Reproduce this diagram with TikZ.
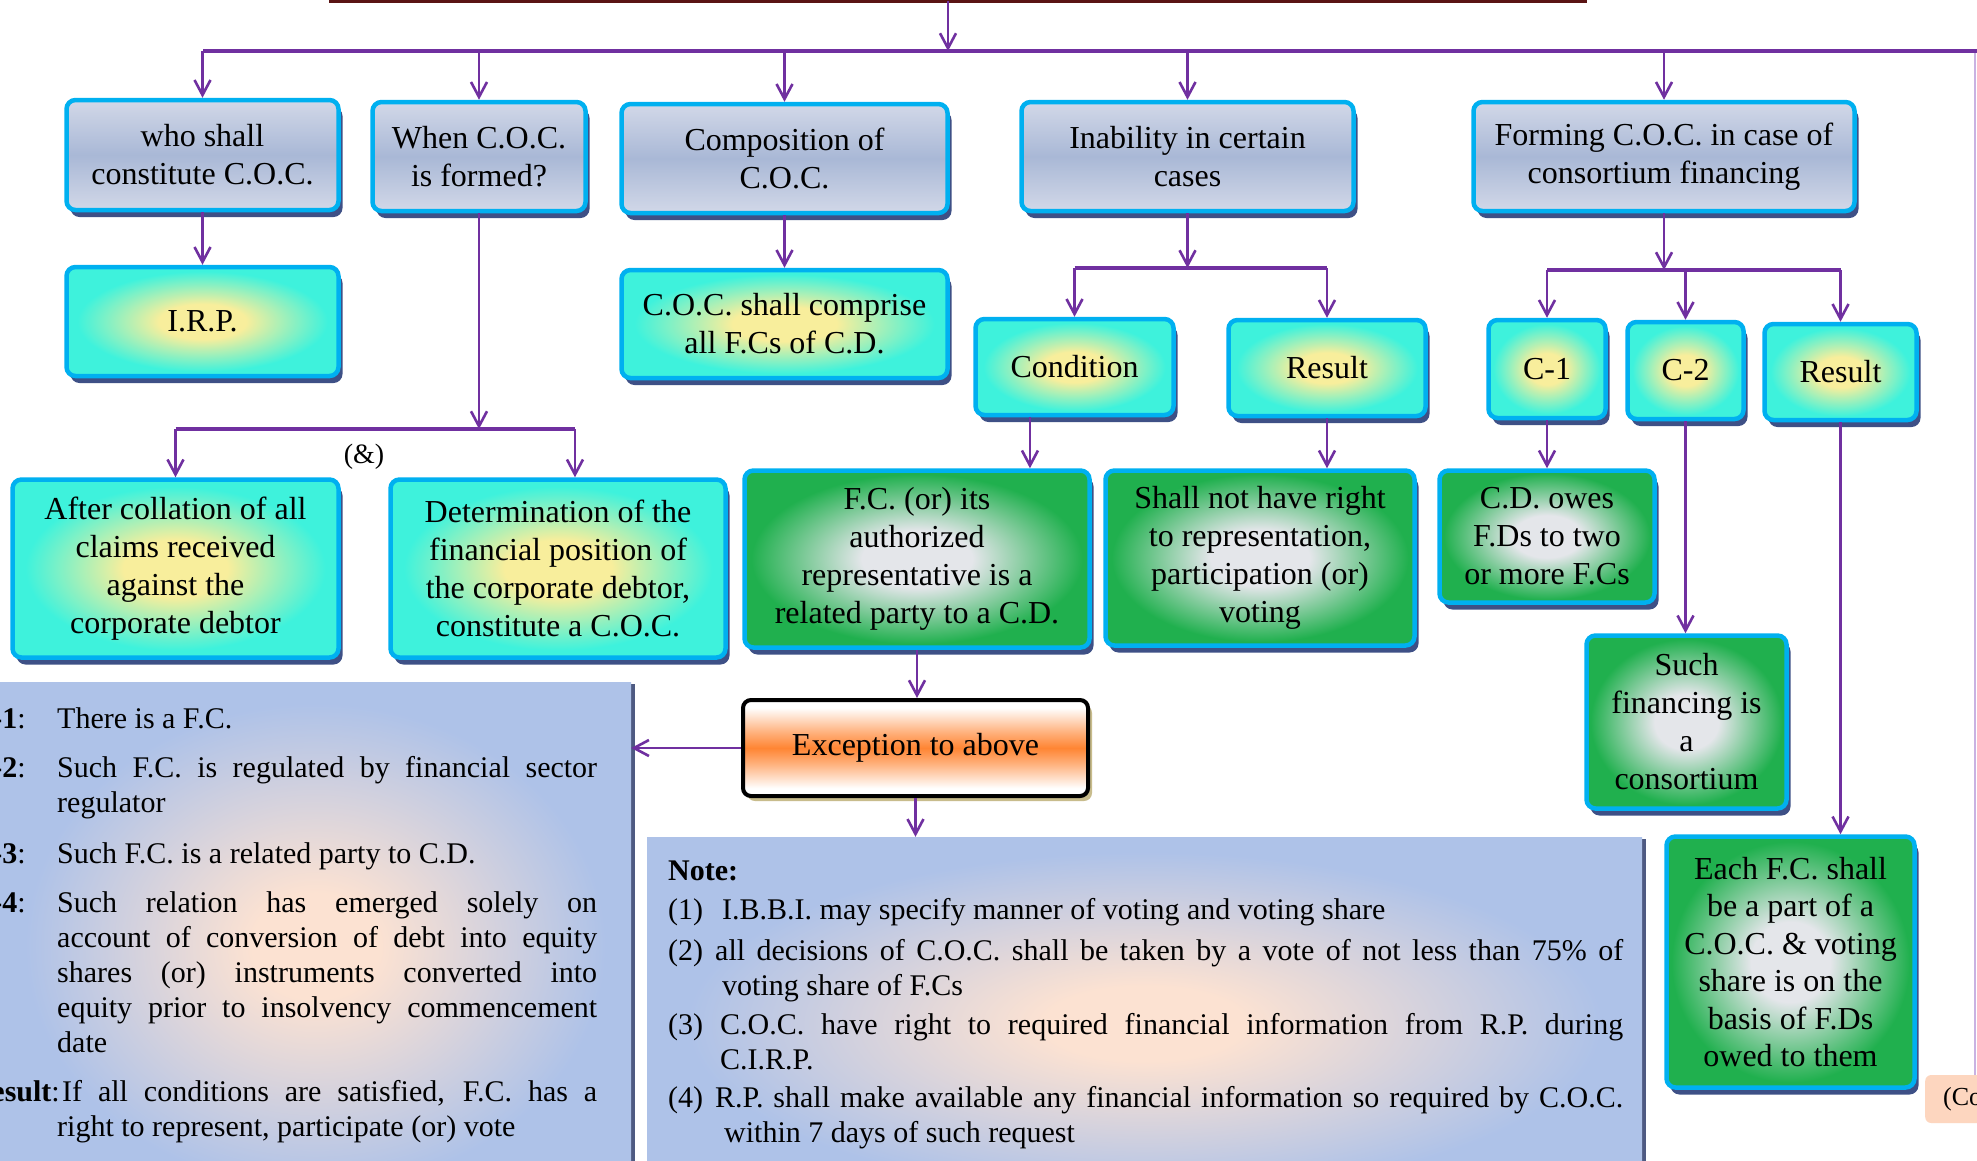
\documentclass[tikz,border=0pt]{standalone}
\usepackage{fontspec}
\setmainfont{Liberation Serif}
\usetikzlibrary{arrows.meta,shadows,calc}

% palette
\definecolor{boxline}{HTML}{00B0F0}
\definecolor{boxshadow}{HTML}{3E5086}
\definecolor{headlight}{HTML}{D2D8E8}
\definecolor{headdark}{HTML}{A9B8D6}
\definecolor{aquacore}{HTML}{F8EE9C}
\definecolor{aquaedge}{HTML}{3EF2DC}
\definecolor{greencore}{HTML}{E4E6EA}
\definecolor{greenedge}{HTML}{20B04E}
\definecolor{excorange}{HTML}{FF8533}
\definecolor{excshadow}{HTML}{C8BC8C}
\definecolor{panelblue}{HTML}{AEC2E8}
\definecolor{panelpeach}{HTML}{FCE2D2}
\definecolor{panelshadow}{HTML}{4E5A82}
\definecolor{flowpurple}{HTML}{7030A0}
\definecolor{topline}{HTML}{5A1414}
\definecolor{sideline}{HTML}{C9B2E2}
\definecolor{tabpeach}{HTML}{FDD6BF}

% fills
\pgfdeclareverticalshading{headband}{100bp}{color(0bp)=(headlight); color(25bp)=(headlight); color(50bp)=(headdark); color(75bp)=(headlight); color(100bp)=(headlight)}
\pgfdeclareverticalshading{excband}{100bp}{color(0bp)=(white); color(29bp)=(white); color(42bp)=(excorange!65!white); color(50bp)=(excorange); color(58bp)=(excorange!65!white); color(71bp)=(white); color(100bp)=(white)}
\pgfdeclareradialshading{aquaglow}{\pgfpoint{0bp}{0bp}}{color(0bp)=(aquacore); color(8bp)=(aquacore); color(23bp)=(aquaedge); color(50bp)=(aquaedge)}
\pgfdeclareradialshading{greenglow}{\pgfpoint{0bp}{0bp}}{color(0bp)=(greencore); color(8bp)=(greencore); color(24bp)=(greenedge); color(50bp)=(greenedge)}
\pgfdeclareradialshading{panelglow}{\pgfpoint{0bp}{0bp}}{color(0bp)=(panelpeach); color(5bp)=(panelpeach); color(23bp)=(panelblue); color(50bp)=(panelblue)}

\newcommand{\cardfont}{\fontsize{32}{38}\selectfont}
\newcommand{\panelfont}{\fontsize{30}{35}\selectfont}

\tikzset{
  x=1pt, y=-1pt,
  card/.style={rectangle, rounded corners=9pt, draw=boxline, line width=4.5pt,
    inner sep=0pt, align=center, font=\cardfont,
    drop shadow={shadow xshift=4pt, shadow yshift=-7pt, fill=boxshadow, opacity=1}},
  headcard/.style={card, shade, shading=headband},
  aquacard/.style={card, shade, shading=aquaglow},
  greencard/.style={card, shade, shading=greenglow},
  flow/.style={draw=flowpurple, line width=2.6pt,
    -{Straight Barb[length=15pt,width=16pt]}},
  bus/.style={draw=flowpurple, line width=3.6pt},
  panel/.style={rectangle, inner sep=0pt, shade, shading=panelglow,
    drop shadow={shadow xshift=4pt, shadow yshift=-2pt, fill=panelshadow, opacity=1}},
  para/.style={anchor=north west, inner sep=0pt, font=\panelfont, align=justify},
  tag/.style={inner sep=0pt, font=\panelfont}
}

\begin{document}
\begin{tikzpicture}
\useasboundingbox (0,0) rectangle (1977,1160);
\fill[white] (0,0) rectangle (1977,1160);

% ---------- text panels ----------
\node[panel, minimum width=631pt, minimum height=528pt] (cpanel) at (315.5,946) {};
\node[panel, minimum width=995pt, minimum height=373pt] (note) at (1144.5,1023.5) {};

% conditions for the exception
\node[tag, anchor=north east] (t1) at (26,703.5) {\strut\textbf{C-1}:};
\node[para, text width=540pt] (p1) at (57,703.5) {\strut There is a F.C.};
\node[tag, anchor=north east] (t2) at (26,752.5) {\strut\textbf{C-2}:};
\node[para, text width=540pt] (p2) at (57,752.5) {\strut Such F.C. is regulated by financial sector\linebreak regulator};
\node[tag, anchor=north east] (t3) at (26,838.5) {\strut\textbf{C-3}:};
\node[para, text width=540pt] (p3) at (57,838.5) {\strut Such F.C. is a related party to C.D.};
\node[tag, anchor=north east] (t4) at (26,887.5) {\strut\textbf{C-4}:};
\node[para, text width=540pt] (p4) at (57,887.5) {\strut Such relation has emerged solely on\linebreak account of conversion of debt into equity\linebreak shares (or) instruments converted into\linebreak equity prior to insolvency commencement\linebreak date};
\node[tag, anchor=north east] (t5) at (60,1076.5) {\strut\textbf{Result}:};
\node[para, text width=540pt] (p5) at (57,1076.5) {\strut\hspace{5pt}If all conditions are satisfied, F.C. has a\linebreak right to represent, participate (or) vote};

% notes
\node[tag, anchor=north west] (nhead) at (668,855.5) {\strut\textbf{Note:}};
\node[tag, anchor=north west] (n1) at (668,894.5) {\strut(1)};
\node[para, text width=903pt] (q1) at (722,894.5) {\strut I.B.B.I. may specify manner of voting and voting share};
\node[tag, anchor=north west] (n2) at (668,935.5) {\strut(2)};
\node[para, text width=908pt] (q2) at (715,935.5) {\strut all decisions of C.O.C. shall be taken by a vote of not less than 75\% of\linebreak \hspace*{7pt}voting share of F.Cs};
\node[tag, anchor=north west] (n3) at (668,1009.5) {\strut(3)};
\node[para, text width=903pt] (q3) at (720,1009.5) {\strut C.O.C. have right to required financial information from R.P. during\linebreak C.I.R.P.};
\node[tag, anchor=north west] (n4) at (668,1082.5) {\strut(4)};
\node[para, text width=908pt] (q4) at (715,1082.5) {\strut R.P. shall make available any financial information so required by C.O.C.\linebreak \hspace*{9pt}within 7 days of such request};

% continuation tab at the right edge
\node[fill=tabpeach, rounded corners=6pt, anchor=west, minimum height=48pt,
      inner xsep=18pt, font=\fontsize{26}{30}\selectfont] (cotab) at (1925,1099) {(Co\hspace{40pt}};

% ---------- top feed and main bus ----------
\coordinate (srcL) at (329,1);
\coordinate (srcR) at (1587,1);
\coordinate (src) at (948,1);
\coordinate (hub) at (948,51);
\coordinate (busL) at (203,51);
\coordinate (busR) at (1977,51);
\coordinate (busend) at (1975,51);
\draw[topline, line width=3.5pt] (srcL) -- (srcR);
\draw[sideline, line width=2pt] (busend) -- (busend |- cotab.north);
\draw[bus] (busL) -- (busR);
\draw[flow] (src) -- (hub);

% ---------- first row ----------
\node[headcard, minimum width=272pt, minimum height=110pt] (who) at (202.5,155) {who shall\\constitute C.O.C.};
\node[headcard, minimum width=213pt, minimum height=109pt] (when) at (479,156.5) {When C.O.C.\\is formed?};
\node[headcard, minimum width=326pt, minimum height=109pt] (comp) at (784.5,158.5) {Composition of\\C.O.C.};
\node[headcard, minimum width=332pt, minimum height=109pt] (inab) at (1187.5,156.5) {Inability in certain\\cases};
\node[headcard, minimum width=381pt, minimum height=109pt] (form) at (1664,156.5) {Forming C.O.C. in case of\\consortium financing};

\foreach \n in {who,when,comp,inab,form}
  \draw[flow] (\n.north |- hub) -- (\n.north);

% ---------- second row ----------
\node[aquacard, minimum width=272pt, minimum height=109pt] (irp) at (202.5,321.5) {I.R.P.};
\node[aquacard, minimum width=326pt, minimum height=108pt] (comprise) at (784.5,324) {C.O.C. shall comprise\\all F.Cs of C.D.};
\node[aquacard, minimum width=198pt, minimum height=96pt] (cond) at (1074.5,367) {Condition};
\node[aquacard, minimum width=197pt, minimum height=96pt] (res1) at (1327,368) {Result};
\node[aquacard, minimum width=117pt, minimum height=98pt] (c1) at (1547,369) {C-1};
\node[aquacard, minimum width=116pt, minimum height=97pt] (c2) at (1685.5,370.5) {C-2};
\node[aquacard, minimum width=152pt, minimum height=96pt] (res2) at (1840.5,372) {Result};

\draw[flow] (who.south) -- (irp.north);
\draw[flow] (comp.south) -- (comprise.north);

% split under "Inability"
\coordinate (inablevel) at (0,268);
\draw[flow] (inab.south) -- (inab.south |- inablevel);
\draw[bus, line width=3.2pt] (cond.north |- inablevel) -- (res1.north |- inablevel);
\draw[flow] (cond.north |- inablevel) -- (cond.north);
\draw[flow] (res1.north |- inablevel) -- (res1.north);

% split under "Forming"
\coordinate (formlevel) at (0,270);
\draw[flow] (form.south) -- (form.south |- formlevel);
\draw[bus, line width=3.2pt] (c1.north |- formlevel) -- (res2.north |- formlevel);
\draw[flow] (c1.north |- formlevel) -- (c1.north);
\draw[flow] (c2.north |- formlevel) -- (c2.north);
\draw[flow] (res2.north |- formlevel) -- (res2.north);

% ---------- third row ----------
\node[aquacard, minimum width=326pt, minimum height=178pt] (after) at (175.5,568.5) {After collation of all\\claims received\\against the\\corporate debtor};
\node[aquacard, minimum width=335pt, minimum height=178pt] (determ) at (558,568.5) {Determination of the\\financial position of\\the corporate debtor,\\constitute a C.O.C.};
\node[greencard, minimum width=345pt, minimum height=177pt] (fc) at (917,559) {F.C. (or) its\\authorized\\representative is a\\related party to a C.D.};
\node[greencard, minimum width=309pt, minimum height=175pt] (shall) at (1260,558) {Shall not have right\\to representation,\\participation (or)\\voting};
\node[greencard, minimum width=215pt, minimum height=132pt] (cdowes) at (1547,536.5) {C.D. owes\\F.Ds to two\\or more F.Cs};
\node[greencard, minimum width=200pt, minimum height=173pt] (such) at (1686.5,722) {Such\\financing is\\a\\consortium};
\node[greencard, minimum width=248pt, minimum height=251pt, font=\fontsize{32}{37.5}\selectfont] (each) at (1790.5,962) {Each F.C. shall\\be a part of a\\C.O.C. \& voting\\share is on the\\basis of F.Ds\\owed to them};

% split under "When"
\coordinate (andlevel) at (0,429);
\coordinate (determin) at ($(determ.north west)!0.55!(determ.north east)$);
\draw[flow] (when.south) -- (when.south |- andlevel);
\draw[bus, line width=3.2pt] (after.north |- andlevel) -- (determin |- andlevel);
\draw[flow] (after.north |- andlevel) -- (after.north);
\draw[flow] (determin |- andlevel) -- (determin);
\node[inner sep=0pt, font=\fontsize{28}{34}\selectfont] (andmark) at (364,457) {(\&)};

% links into the third row
\coordinate (condout) at ($(cond.south west)!0.28!(cond.south east)$);
\draw[flow] (condout) -- (condout |- fc.north);
\draw[flow] (res1.south) -- (res1.south |- shall.north);
\draw[flow] (c1.south) -- (cdowes.north);
\draw[flow] (c2.south) -- (c2.south |- such.north);
\draw[flow] (res2.south) -- (res2.south |- each.north);

% ---------- exception ----------
\node[rectangle, rounded corners=8pt, draw=black, line width=4pt, inner sep=0pt,
      shade, shading=excband, font=\cardfont,
      drop shadow={shadow xshift=4pt, shadow yshift=-5pt, fill=excshadow, opacity=1},
      minimum width=345pt, minimum height=96pt] (exc) at (915.5,748) {Exception to above};
\draw[flow] (fc.south) -- (fc.south |- exc.north);
\draw[flow] (exc.south) -- (exc.south |- note.north);
\draw[flow] (exc.west) -- (exc.west -| cpanel.east);
\end{tikzpicture}
\end{document}
